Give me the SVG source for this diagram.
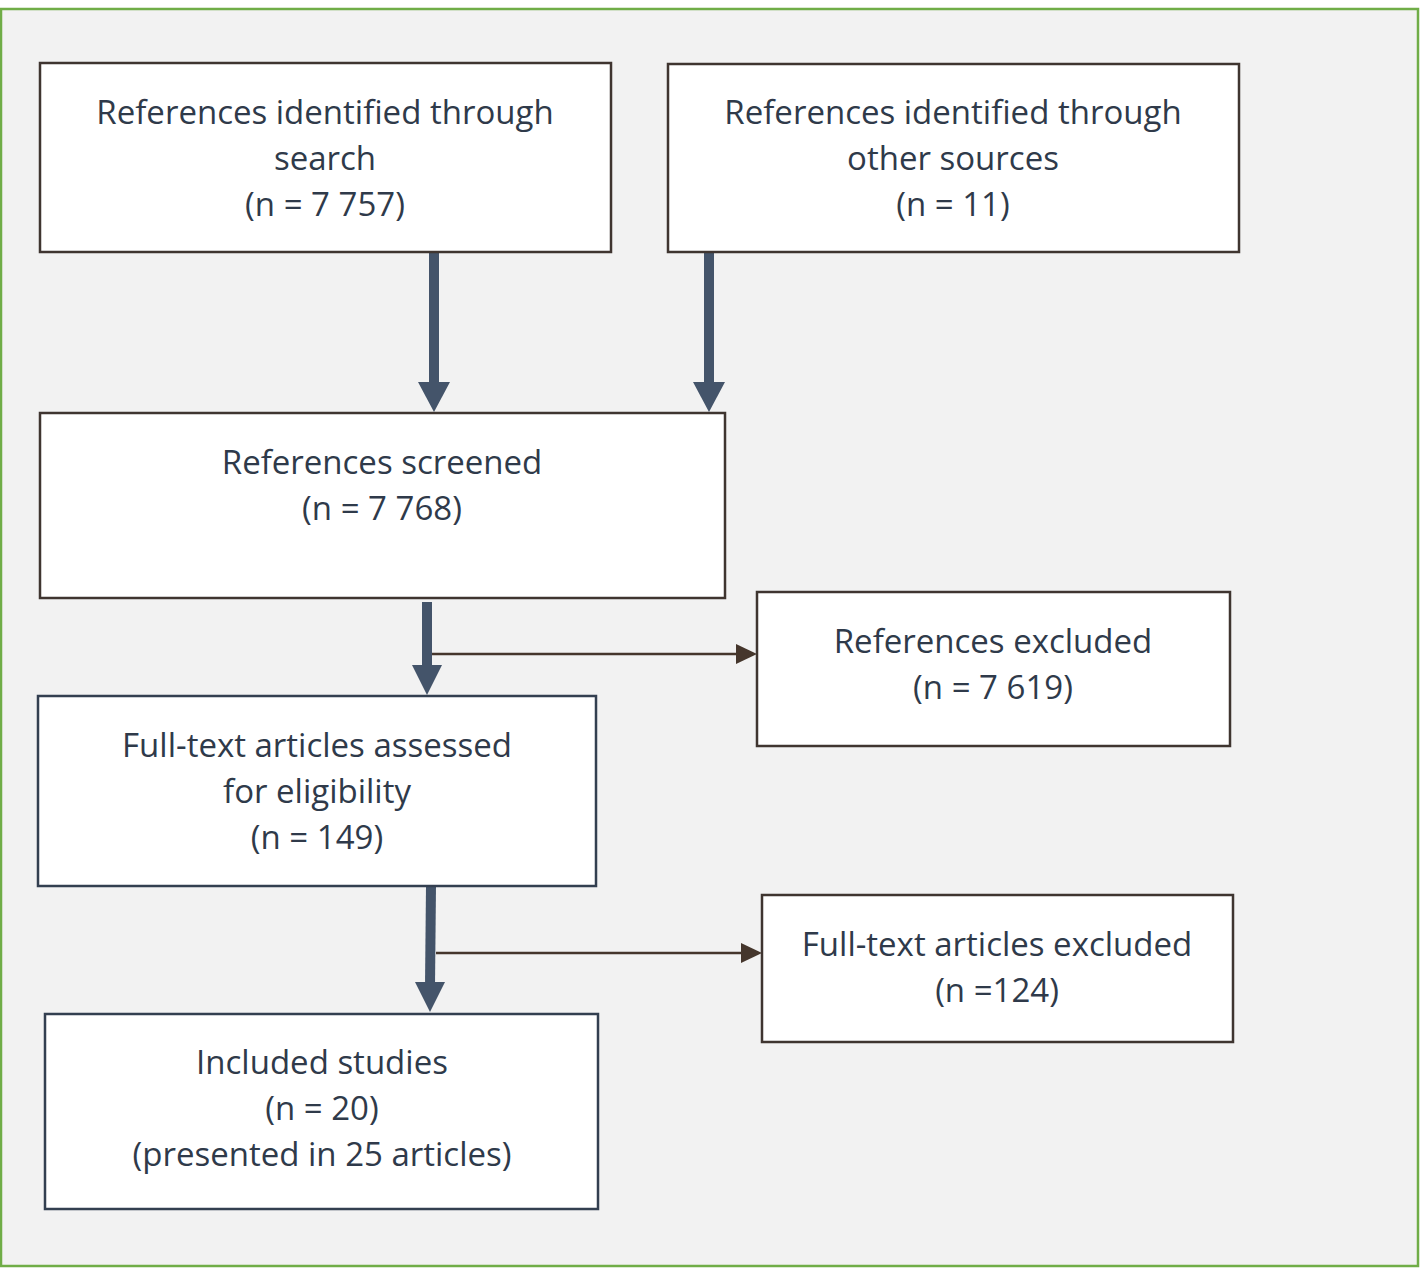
<svg xmlns="http://www.w3.org/2000/svg" width="1424" height="1268" viewBox="0 0 1424 1268">
<defs>
<style>
.box{fill:#ffffff;stroke:#3f3530;stroke-width:2.5}
.boxb{fill:#ffffff;stroke:#333f50;stroke-width:2.5}
.t{font-family:"Open Sans","Noto Sans","Liberation Sans",sans-serif;font-size:33px;fill:#2f3a4a;text-anchor:middle}
.thick{stroke:#44546a;stroke-width:10;fill:none}
.thin{stroke:#45362c;stroke-width:2.5;fill:none}
.hd{fill:#44546a}
.hdt{fill:#45362c}
</style>
</defs>
<rect x="1" y="9" width="1417" height="1257" fill="#f2f2f2" stroke="#70ad47" stroke-width="2.5"/>
<g id="connectors">
<line class="thick" x1="434" y1="252" x2="434" y2="384"/>
<polygon class="hd" points="418,382 450,382 434,412"/>
<line class="thick" x1="709" y1="252" x2="709" y2="384"/>
<polygon class="hd" points="693,382 725,382 709,412"/>
<line class="thick" x1="427" y1="602" x2="427" y2="668"/>
<polygon class="hd" points="412,665 442,665 427,695"/>
<line class="thin" x1="432" y1="654" x2="738" y2="654"/>
<polygon class="hdt" points="736,644 757,654 736,664"/>
<line class="thick" x1="431" y1="886" x2="430" y2="985"/>
<polygon class="hd" points="415,982 445,982 430,1012"/>
<line class="thin" x1="436" y1="953" x2="743" y2="953"/>
<polygon class="hdt" points="741,943 762,953 741,963"/>
</g>
<g id="n1">
<rect class="box" x="40" y="63" width="571" height="189"/>
<text class="t" x="325" y="124">References identified through</text>
<text class="t" x="325" y="170">search</text>
<text class="t" x="325" y="216">(n = 7 757)</text>
</g>
<g id="n2">
<rect class="box" x="668" y="64" width="571" height="188"/>
<text class="t" x="953" y="124">References identified through</text>
<text class="t" x="953" y="170">other sources</text>
<text class="t" x="953" y="216">(n = 11)</text>
</g>
<g id="n3">
<rect class="box" x="40" y="413" width="685" height="185"/>
<text class="t" x="382" y="474">References screened</text>
<text class="t" x="382" y="520">(n = 7 768)</text>
</g>
<g id="n4">
<rect class="box" x="757" y="592" width="473" height="154"/>
<text class="t" x="993" y="653">References excluded</text>
<text class="t" x="993" y="699">(n = 7 619)</text>
</g>
<g id="n5">
<rect class="boxb" x="38" y="696" width="558" height="190"/>
<text class="t" x="317" y="757">Full-text articles assessed</text>
<text class="t" x="317" y="803">for eligibility</text>
<text class="t" x="317" y="849">(n = 149)</text>
</g>
<g id="n6">
<rect class="box" x="762" y="895" width="471" height="147"/>
<text class="t" x="997" y="956">Full-text articles excluded</text>
<text class="t" x="997" y="1002">(n =124)</text>
</g>
<g id="n7">
<rect class="boxb" x="45" y="1014" width="553" height="195"/>
<text class="t" x="322" y="1074">Included studies</text>
<text class="t" x="322" y="1120">(n = 20)</text>
<text class="t" x="322" y="1166">(presented in 25 articles)</text>
</g>
</svg>
